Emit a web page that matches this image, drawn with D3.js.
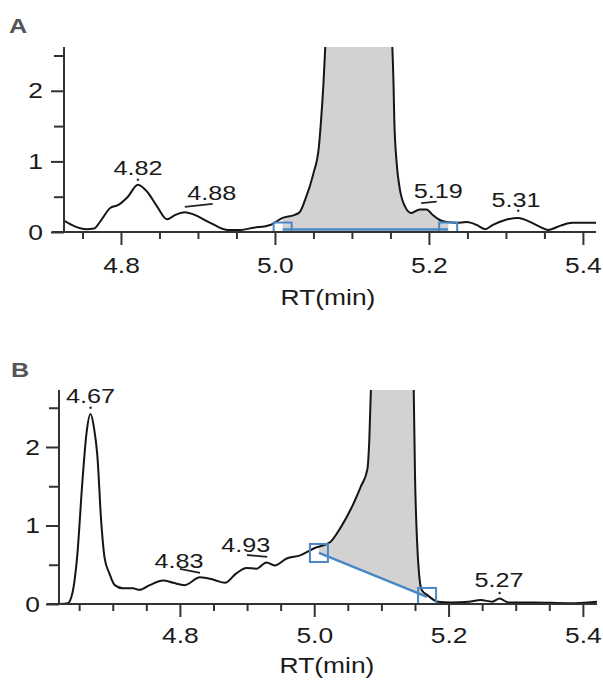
<!DOCTYPE html>
<html>
<head>
<meta charset="utf-8">
<script src="https://cdn.jsdelivr.net/npm/d3@7"></script>
<style>
body { margin: 0; background: #fff; }
svg text { font-family: "Liberation Sans", Arial, sans-serif; }
</style>
</head>
<body>
<div id="chart"></div>
<script>
var width = 603;
var height = 680;
var sx = 1.2; // the reference text is a bit stretched sideways

// chromatogram A (rt in min, intensity)
var rtA  = [4.726, 4.74, 4.755, 4.765, 4.775, 4.786, 4.796, 4.809, 4.822, 4.834, 4.847, 4.86, 4.87, 4.883, 4.894, 4.916, 4.938, 4.955, 4.972, 4.994, 5.01, 5.025, 5.032, 5.039, 5.05, 5.057, 5.06, 5.063, 5.067, 5.075, 5.1, 5.14, 5.151, 5.154, 5.155, 5.158, 5.162, 5.169, 5.177, 5.188, 5.197, 5.205, 5.214, 5.223, 5.236, 5.249, 5.262, 5.273, 5.283, 5.299, 5.316, 5.332, 5.345, 5.355, 5.371, 5.386, 5.417];
var intA = [0.16, 0.08, 0.04, 0.05, 0.18, 0.34, 0.38, 0.5, 0.67, 0.57, 0.36, 0.18, 0.24, 0.28, 0.25, 0.13, 0.03, 0.03, 0.06, 0.1, 0.2, 0.24, 0.28, 0.45, 0.83, 1.2, 1.6, 2.1, 3.0, 5, 8, 5, 3.0, 2.1, 1.6, 0.99, 0.62, 0.36, 0.27, 0.32, 0.32, 0.24, 0.17, 0.14, 0.13, 0.14, 0.1, 0.04, 0.1, 0.17, 0.2, 0.14, 0.07, 0.03, 0.09, 0.13, 0.13];

// chromatogram B
var rtB  = [4.62, 4.633, 4.64, 4.647, 4.655, 4.661, 4.667, 4.672, 4.677, 4.683, 4.688, 4.695, 4.703, 4.715, 4.73, 4.74, 4.755, 4.775, 4.79, 4.807, 4.83, 4.85, 4.867, 4.884, 4.899, 4.914, 4.929, 4.941, 4.959, 4.979, 5.0, 5.024, 5.039, 5.054, 5.069, 5.079, 5.082, 5.085, 5.09, 5.12, 5.145, 5.148, 5.15, 5.153, 5.156, 5.16, 5.169, 5.184, 5.204, 5.23, 5.248, 5.265, 5.276, 5.289, 5.328, 5.378, 5.421];
var intB = [0, 0.01, 0.14, 0.6, 1.58, 2.18, 2.42, 2.25, 1.9, 1.03, 0.58, 0.39, 0.24, 0.2, 0.2, 0.18, 0.24, 0.3, 0.27, 0.24, 0.34, 0.31, 0.27, 0.39, 0.46, 0.45, 0.53, 0.49, 0.58, 0.62, 0.71, 0.79, 0.97, 1.2, 1.49, 1.71, 2.09, 2.9, 5, 8, 5, 2.8, 1.66, 0.82, 0.39, 0.18, 0.11, 0.03, 0.02, 0.03, 0.05, 0.03, 0.07, 0.02, 0.02, 0.01, 0.03];

// peak labels: text, label centre rt, label baseline height
var peakTextA = ["4.82", "4.88", "5.19", "5.31"];
var peakRtA   = [4.822, 4.918, 5.212, 5.313];
var peakHA    = [0.81, 0.45, 0.48, 0.35];
// apex marks [rt1, h1, rt2, h2] (a dot when both ends are the same)
var markA = [[4.822, 0.74, 4.822, 0.74], [4.883, 0.355, 4.919, 0.397], [5.19, 0.41, 5.21, 0.43], [5.316, 0.3, 5.316, 0.3]];

var peakTextB = ["4.67", "4.83", "4.93", "5.27"];
var peakRtB   = [4.667, 4.7985, 4.898, 5.275];
var peakHB    = [2.56, 0.46, 0.66, 0.22];
var markB = [[4.667, 2.5, 4.667, 2.5], [4.8, 0.446, 4.83, 0.395], [4.9, 0.624, 4.93, 0.6], [5.276, 0.14, 5.276, 0.14]];

// integration baseline (start and end point)
var baseA = [[5.01, 0.035], [5.225, 0.035]];
var baseB = [[5.007, 0.65], [5.168, 0.09]];

// ticks
var xMajor = [4.8, 5.0, 5.2, 5.4];
var xMinor = [4.65, 4.7, 4.75, 4.85, 4.9, 4.95, 5.05, 5.1, 5.15, 5.25, 5.3, 5.35];
var yMajor = [0, 1, 2];
var yMinor = [0.5, 1.5, 2.5];

var svg = d3.select("#chart")
  .append("svg")
    .attr("width", width)
    .attr("height", height);

function interp(rt, val, t) {
  for (var i = 1; i < rt.length; i++) {
    if (rt[i] >= t) {
      var f = (t - rt[i-1]) / (rt[i] - rt[i-1]);
      return val[i-1] + f * (val[i] - val[i-1]);
    }
  }
  return val[val.length - 1];
}

function panel(p) {
  var x = d3.scaleLinear().domain(p.xdom).range([p.left, p.right]);
  var y = d3.scaleLinear().domain(p.ydom).range([p.bottom, p.top]);
  var g = svg.append("g");

  g.append("clipPath").attr("id", "clip" + p.id)
    .append("rect")
      .attr("x", p.left).attr("y", p.top)
      .attr("width", p.right - p.left).attr("height", p.bottom - p.top);

  var data = p.rt.map(function (d, i) { return [d, p.val[i]]; });
  var b = p.base;

  // shaded peak between curve and baseline
  var fillPts = [[b[0][0], interp(p.rt, p.val, b[0][0])]];
  data.forEach(function (d) { if (d[0] > b[0][0] && d[0] < b[1][0]) fillPts.push(d); });
  fillPts.push([b[1][0], interp(p.rt, p.val, b[1][0])]);
  var baseAt = function (t) { return b[0][1] + (t - b[0][0]) / (b[1][0] - b[0][0]) * (b[1][1] - b[0][1]); };

  var plot = g.append("g").attr("clip-path", "url(#clip" + p.id + ")");
  plot.append("path")
    .datum(fillPts)
    .attr("fill", "#d2d2d2")
    .attr("d", d3.area()
      .curve(d3.curveMonotoneX)
      .x(function (d) { return x(d[0]); })
      .y0(function (d) { return y(baseAt(d[0])); })
      .y1(function (d) { return y(d[1]); }));

  plot.append("line")
    .attr("x1", x(b[0][0])).attr("y1", y(b[0][1]))
    .attr("x2", x(b[1][0])).attr("y2", y(b[1][1]))
    .attr("stroke", "#4a86c4").attr("stroke-width", 2.4);

  plot.append("path")
    .datum(data)
    .attr("fill", "none")
    .attr("stroke", "#151515")
    .attr("stroke-width", 2)
    .attr("d", d3.line()
      .curve(d3.curveMonotoneX)
      .x(function (d) { return x(d[0]); })
      .y(function (d) { return y(d[1]); }));

  plot.selectAll("rect.box")
    .data(b)
    .enter().append("rect")
      .attr("class", "box")
      .attr("x", function (d) { return x(d[0]) - 9; })
      .attr("y", function (d) { return y(d[1]) - p.boxH / 2; })
      .attr("width", 18).attr("height", p.boxH)
      .attr("fill", "none")
      .attr("stroke", "#4a86c4").attr("stroke-width", 2);

  // axes
  var inDom = function (v) { return v >= p.xdom[0] && v <= p.xdom[1]; };
  g.append("g")
    .attr("transform", "translate(0," + p.bottom + ")")
    .call(d3.axisBottom(x).tickValues(xMinor.filter(inDom)).tickSize(7).tickFormat(""))
    .call(function (a) { a.select(".domain").remove(); });
  var xa = g.append("g")
    .attr("transform", "translate(0," + p.bottom + ")")
    .call(d3.axisBottom(x).tickValues(xMajor).tickSize(13).tickSizeOuter(0)
      .tickPadding(p.xPad).tickFormat(d3.format(".1f")));
  xa.select(".domain").attr("d", "M" + (p.left - 12) + ",0H" + p.right);

  g.append("g")
    .attr("transform", "translate(" + p.left + ",0)")
    .call(d3.axisLeft(y).tickValues(yMinor).tickSize(10).tickFormat(""))
    .call(function (a) { a.select(".domain").remove(); });
  var ya = g.append("g")
    .attr("transform", "translate(" + p.left + ",0)")
    .call(d3.axisLeft(y).tickValues(yMajor).tickSize(13).tickSizeOuter(0).tickFormat(d3.format("d")));
  ya.select(".domain").attr("d", "M0," + p.top + "V" + p.bottom);

  g.selectAll(".tick line").attr("stroke", "#333").attr("stroke-width", 2);
  g.selectAll(".domain").attr("stroke", "#333").attr("stroke-width", 2);
  xa.selectAll(".tick text")
    .attr("font-size", 22).attr("fill", "#1a1a1a")
    .attr("transform", "scale(" + sx + ",1)");
  ya.selectAll(".tick text")
    .attr("font-size", 22).attr("fill", "#1a1a1a")
    .attr("x", -p.yPad / sx)
    .attr("transform", "scale(" + sx + ",1)");

  // peak labels and apex marks
  p.text.forEach(function (t, i) {
    g.append("text")
      .attr("transform", "translate(" + x(p.labRt[i]) + "," + y(p.labH[i]) + ") scale(" + sx + ",1)")
      .attr("text-anchor", "middle")
      .attr("font-size", 21)
      .attr("fill", "#1a1a1a")
      .text(t);
    var m = p.mark[i];
    if (m[0] === m[2]) {
      g.append("circle")
        .attr("cx", x(m[0])).attr("cy", y(m[1])).attr("r", 1.3)
        .attr("fill", "#333");
    } else {
      g.append("line")
        .attr("x1", x(m[0])).attr("y1", y(m[1]))
        .attr("x2", x(m[2])).attr("y2", y(m[3]))
        .attr("stroke", "#222").attr("stroke-width", 1.8);
    }
  });

  g.append("text")
    .attr("transform", "translate(" + p.titleX + "," + p.titleY + ") scale(" + sx + ",1)")
    .attr("text-anchor", "middle")
    .attr("font-size", 22)
    .attr("fill", "#1a1a1a")
    .text("RT(min)");

  g.append("text")
    .attr("transform", "translate(" + p.letterX + "," + p.letterY + ") scale(" + sx + ",1)")
    .attr("font-size", 21)
    .attr("font-weight", "bold")
    .attr("fill", "#555")
    .text(p.id);
}

panel({
  id: "A", rt: rtA, val: intA, base: baseA,
  text: peakTextA, labRt: peakRtA, labH: peakHA, mark: markA,
  xdom: [4.726, 5.417], ydom: [0, 2.62],
  left: 64, right: 596, top: 47, bottom: 232,
  boxH: 14, xPad: 12, yPad: 21,
  titleX: 328, titleY: 305, letterX: 9, letterY: 33
});

panel({
  id: "B", rt: rtB, val: intB, base: baseB,
  text: peakTextB, labRt: peakRtB, labH: peakHB, mark: markB,
  xdom: [4.62, 5.421], ydom: [0, 2.726],
  left: 59, right: 597, top: 390, bottom: 604,
  boxH: 18, xPad: 10, yPad: 19,
  titleX: 327, titleY: 673, letterX: 11, letterY: 377
});
</script>
</body>
</html>
